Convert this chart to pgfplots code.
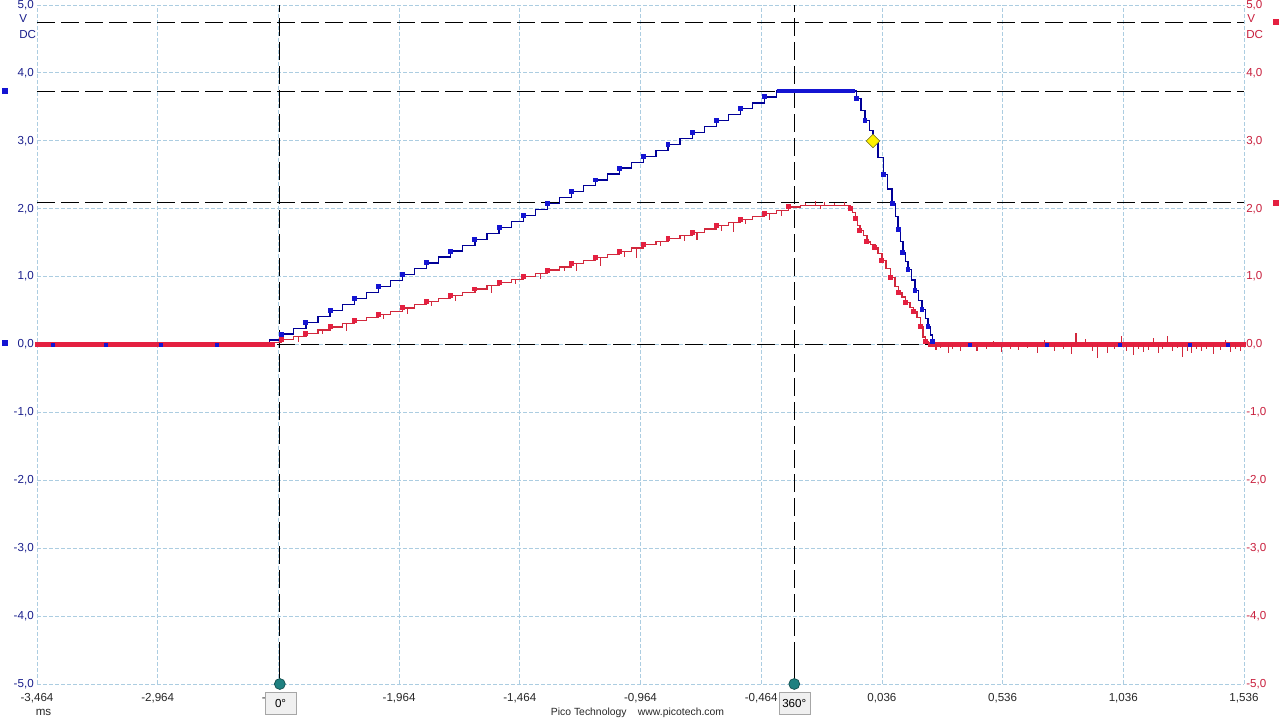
\documentclass[border=0pt]{standalone}
\usepackage{pgfplots}
\pgfplotsset{compat=1.18}
\usepackage{fontspec}
\setmainfont{Liberation Sans}
\definecolor{bluetrace}{RGB}{0,0,150}
\definecolor{bluemark}{RGB}{20,20,210}
\definecolor{redtrace}{RGB}{210,40,60}
\definecolor{redmark}{RGB}{228,32,64}
\definecolor{gridblue}{RGB}{172,205,225}
\definecolor{lefttick}{RGB}{25,30,140}
\definecolor{righttick}{RGB}{200,30,60}
\definecolor{tealc}{RGB}{30,128,128}
\definecolor{boxgray}{RGB}{240,240,240}
\begin{document}
\fontsize{8.7pt}{10pt}\selectfont
\begin{tikzpicture}
\path[use as bounding box] (0,0) rectangle (960pt,540pt);
\begin{axis}[
  at={(27.75pt,27pt)}, anchor=south west, scale only axis,
  width=905.25pt, height=509.25pt,
  xmin=-3.464, xmax=1.536, ymin=-5, ymax=5,
  xtick={-3.464,-2.964,-2.464,-1.964,-1.464,-0.964,-0.464,0.036,0.536,1.036,1.536},
  xticklabels={{-3,464},{-2,964},{-2,464},{-1,964},{-1,464},{-0,964},{-0,464},{0,036},{0,536},{1,036},{1,536}},
  ytick={-5,-4,-3,-2,-1,0,1,2,3,4,5},
  yticklabels={{-5,0},{-4,0},{-3,0},{-2,0},{-1,0},{0,0},{1,0},{2,0},{3,0},{4,0},{5,0}},
  grid=major,
  major grid style={gridblue, dash pattern=on 3pt off 1.5pt, line width=0.6pt},
  axis line style={draw=none}, major tick length=0pt,
  xticklabel style={anchor=north, inner sep=0pt, yshift=-6.75pt, text=black!85},
  yticklabel style={anchor=east, inner sep=0pt, xshift=-2.25pt, text=lefttick},
  clip=false,
]
% rulers
\draw[black, line width=0.75pt, dash pattern=on 13.5pt off 4.5pt] (axis cs:-3.464,4.735) -- (axis cs:1.536,4.735);
\draw[black, line width=0.75pt, dash pattern=on 13.5pt off 4.5pt] (axis cs:-3.464,3.733) -- (axis cs:1.536,3.733);
\draw[black, line width=0.75pt, dash pattern=on 13.5pt off 4.5pt] (axis cs:-3.464,2.084) -- (axis cs:1.536,2.084);
\draw[black, line width=0.75pt, dash pattern=on 13.5pt off 4.5pt] (axis cs:-3.464,0) -- (axis cs:1.536,0);
\draw[black, line width=0.75pt, dash pattern=on 13.5pt off 4.5pt] (axis cs:-2.458,-5) -- (axis cs:-2.458,5);
\draw[black, line width=0.75pt, dash pattern=on 13.5pt off 4.5pt] (axis cs:-0.327,-5) -- (axis cs:-0.327,5);
\draw[black, line width=0.75pt] (axis cs:-2.458,-5) -- (axis cs:-2.458,-4.65);
\draw[black, line width=0.75pt] (axis cs:-0.327,-5) -- (axis cs:-0.327,-4.65);
% blue trace
\addplot[bluetrace, line width=0.9pt, const plot mark left, mark=square*, mark repeat=2, mark size=1.4pt, mark options={fill=bluemark, draw=bluemark, solid}] coordinates {
(-3.464,0) (-2.50,0.066) (-2.45,0.154) (-2.40,0.241) (-2.35,0.328) (-2.30,0.416) (-2.25,0.503) (-2.20,0.590) (-2.15,0.677) (-2.10,0.765) (-2.05,0.852) (-2.00,0.939) (-1.95,1.027) (-1.90,1.114) (-1.85,1.201) (-1.80,1.289) (-1.75,1.376) (-1.70,1.463) (-1.65,1.550) (-1.60,1.638) (-1.55,1.725) (-1.50,1.812) (-1.45,1.900) (-1.40,1.987) (-1.35,2.074) (-1.30,2.162) (-1.25,2.249) (-1.20,2.336) (-1.15,2.423) (-1.10,2.511) (-1.05,2.598) (-1.00,2.685) (-0.95,2.773) (-0.90,2.860) (-0.85,2.947) (-0.80,3.035) (-0.75,3.122) (-0.70,3.209) (-0.65,3.296) (-0.60,3.384) (-0.55,3.471) (-0.50,3.558) (-0.45,3.646) (-0.40,3.733)
(-0.068,3.62) (-0.051,3.45) (-0.034,3.30) (-0.017,3.15) (-0.001,2.99) (0.020,2.75) (0.041,2.50) (0.060,2.29) (0.078,2.08) (0.091,1.88) (0.103,1.69) (0.113,1.52) (0.123,1.35) (0.134,1.22) (0.144,1.10) (0.158,0.95) (0.173,0.80) (0.188,0.65) (0.202,0.51) (0.215,0.38) (0.227,0.26) (0.236,0.14) (0.244,0.04) (0.250,0) (1.536,0)};
\addplot[bluemark, line width=2.4pt] coordinates {(-0.40,3.733) (-0.075,3.733)};
% red trace
\addplot[redtrace, line width=0.9pt, const plot mark left, mark=square*, mark repeat=2, mark size=1.4pt, mark options={fill=redmark, draw=redmark, solid}] coordinates {
(-3.464,0) (-2.48,0.03) (-2.45,0.073) (-2.40,0.119) (-2.35,0.166) (-2.30,0.212) (-2.25,0.259) (-2.20,0.305) (-2.15,0.352) (-2.10,0.398) (-2.05,0.445) (-2.00,0.491) (-1.95,0.538) (-1.90,0.584) (-1.85,0.631) (-1.80,0.677) (-1.75,0.724) (-1.70,0.770) (-1.65,0.817) (-1.60,0.863) (-1.55,0.910) (-1.50,0.956) (-1.45,1.003) (-1.40,1.049) (-1.35,1.096) (-1.30,1.142) (-1.25,1.189) (-1.20,1.235) (-1.15,1.282) (-1.10,1.328) (-1.05,1.375) (-1.00,1.421) (-0.95,1.468) (-0.90,1.514) (-0.85,1.561) (-0.80,1.607) (-0.75,1.654) (-0.70,1.700) (-0.65,1.747) (-0.60,1.793) (-0.55,1.840) (-0.50,1.886) (-0.45,1.933) (-0.40,1.979) (-0.35,2.026) (-0.30,2.050)
(-0.096,2.00) (-0.085,1.94) (-0.075,1.85) (-0.065,1.75) (-0.055,1.68) (-0.040,1.60) (-0.026,1.51) (-0.010,1.47) (0.007,1.43) (0.020,1.34) (0.036,1.24) (0.053,1.12) (0.070,0.99) (0.090,0.85) (0.105,0.77) (0.119,0.70) (0.135,0.62) (0.152,0.55) (0.167,0.48) (0.181,0.40) (0.195,0.26) (0.206,0.11) (0.218,0.04) (0.228,0) (1.536,0)};
\addplot[redmark, line width=3.6pt] coordinates {(-3.464,0) (-2.48,0)};
\addplot[redmark, line width=3.6pt] coordinates {(0.228,0) (1.536,0)};
\addplot[only marks, mark=square*, mark size=1.1pt, mark options={fill=bluemark, draw=bluemark}] coordinates {(-3.40,0) (-3.18,0) (-2.95,0) (-2.72,0) (0.40,0) (0.72,0) (1.02,0) (1.31,0) (1.47,0)};
% spikes
\addplot[draw=none, mark=none, error bars/.cd, y dir=both, y explicit, error mark=none, error bar style={draw=redtrace, line width=0.8pt}] coordinates {
(-2.38,0.119) += (0,0) -= (0,0.08)
(-2.28,0.212) += (0,0) -= (0,0.06)
(-2.18,0.305) += (0,0) -= (0,0.10)
(-2.03,0.445) += (0,0) -= (0,0.07)
(-1.93,0.538) += (0,0) -= (0,0.09)
(-1.83,0.631) += (0,0) -= (0,0.06)
(-1.73,0.724) += (0,0) -= (0,0.08)
(-1.58,0.863) += (0,0) -= (0,0.10)
(-1.48,0.956) += (0,0) -= (0,0.07)
(-1.38,1.049) += (0,0) -= (0,0.09)
(-1.28,1.142) += (0,0) -= (0,0.06)
(-1.23,1.189) += (0,0) -= (0,0.10)
(-1.13,1.282) += (0,0) -= (0,0.12)
(-1.03,1.375) += (0,0) -= (0,0.08)
(-0.98,1.421) += (0,0) -= (0,0.14)
(-0.88,1.514) += (0,0) -= (0,0.07)
(-0.78,1.607) += (0,0) -= (0,0.09)
(-0.73,1.654) += (0,0) -= (0,0.12)
(-0.63,1.747) += (0,0) -= (0,0.08)
(-0.58,1.793) += (0,0) -= (0,0.14)
(-0.53,1.840) += (0,0) -= (0,0.07)
(-0.43,1.933) += (0,0) -= (0,0.10)
(-0.38,1.979) += (0,0) -= (0,0.08)
(-0.28,2.05) += (0,0.04) -= (0,0)
(-0.24,2.05) += (0,0.06) -= (0,0)
(-0.22,2.05) += (0,0) -= (0,0.06)
(-0.20,2.05) += (0,0.05) -= (0,0)
(-0.16,2.05) += (0,0.04) -= (0,0)
(-0.12,2.05) += (0,0.05) -= (0,0)
(0.26,0) += (0,0) -= (0,0.08)
(0.28,0) += (0,0) -= (0,0.05)
(0.31,0) += (0,0) -= (0,0.12)
(0.33,0) += (0,0) -= (0,0.06)
(0.36,0) += (0,0) -= (0,0.09)
(0.40,0) += (0,0) -= (0,0.04)
(0.43,0) += (0,0) -= (0,0.10)
(0.47,0) += (0,0) -= (0,0.07)
(0.50,0) += (0,0.05) -= (0,0)
(0.53,0) += (0,0) -= (0,0.11)
(0.57,0) += (0,0) -= (0,0.06)
(0.60,0) += (0,0) -= (0,0.08)
(0.64,0) += (0,0) -= (0,0.05)
(0.68,0) += (0,0) -= (0,0.12)
(0.71,0) += (0,0.06) -= (0,0)
(0.75,0) += (0,0) -= (0,0.09)
(0.79,0) += (0,0) -= (0,0.06)
(0.82,0) += (0,0) -= (0,0.14)
(0.84,0) += (0,0.17) -= (0,0)
(0.88,0) += (0,0.08) -= (0,0)
(0.91,0) += (0,0) -= (0,0.10)
(0.93,0) += (0,0) -= (0,0.20)
(0.97,0) += (0,0) -= (0,0.12)
(1.00,0) += (0,0) -= (0,0.07)
(1.03,0) += (0,0.13) -= (0,0)
(1.05,0) += (0,0) -= (0,0.09)
(1.08,0) += (0,0) -= (0,0.15)
(1.10,0) += (0,0) -= (0,0.06)
(1.12,0) += (0,0) -= (0,0.11)
(1.14,0) += (0,0) -= (0,0.08)
(1.16,0) += (0,0.10) -= (0,0)
(1.18,0) += (0,0) -= (0,0.13)
(1.20,0) += (0,0) -= (0,0.07)
(1.22,0) += (0,0.12) -= (0,0)
(1.24,0) += (0,0) -= (0,0.10)
(1.26,0) += (0,0) -= (0,0.05)
(1.28,0) += (0,0) -= (0,0.18)
(1.30,0) += (0,0) -= (0,0.09)
(1.32,0) += (0,0) -= (0,0.12)
(1.34,0) += (0,0) -= (0,0.07)
(1.36,0) += (0,0) -= (0,0.10)
(1.38,0) += (0,0) -= (0,0.06)
(1.41,0) += (0,0) -= (0,0.14)
(1.44,0) += (0,0) -= (0,0.08)
(1.46,0) += (0,0.07) -= (0,0)
(1.48,0) += (0,0) -= (0,0.11)
(1.50,0) += (0,0) -= (0,0.06)
(1.52,0) += (0,0) -= (0,0.09)
};
% trigger diamond
\addplot[only marks, mark=square*, mark size=3.6pt, mark options={rotate=45, fill=yellow, draw=olive!70!black, line width=0.4pt}] coordinates {(-0.001,2.997)};
% cursor handles
\addplot[only marks, mark=*, mark size=4.1pt, mark options={fill=tealc, draw=tealc!60!black, line width=0.5pt}] coordinates {(-2.458,-5) (-0.327,-5)};
\node[draw=gray!70, fill=boxgray, minimum width=23.25pt, minimum height=16.5pt, inner sep=0pt] at (axis cs:-2.455,-5.28) {0°};
\node[draw=gray!70, fill=boxgray, minimum width=23.25pt, minimum height=16.5pt, inner sep=0pt] at (axis cs:-0.327,-5.28) {360°};
\end{axis}
\begin{axis}[
  at={(27.75pt,27pt)}, anchor=south west, scale only axis,
  width=905.25pt, height=509.25pt,
  xmin=-3.464, xmax=1.536, ymin=-5, ymax=5,
  xtick=\empty,
  ytick={-5,-4,-3,-2,-1,0,1,2,3,4,5},
  yticklabels={{-5,0},{-4,0},{-3,0},{-2,0},{-1,0},{0,0},{1,0},{2,0},{3,0},{4,0},{5,0}},
  yticklabel pos=right,
  axis line style={draw=none}, major tick length=0pt,
  yticklabel style={anchor=west, inner sep=0pt, xshift=1.5pt, text=righttick},
]
\end{axis}
\begin{scope}[x=0.75pt, y=-0.75pt, yshift=540pt]
\node[anchor=west, inner sep=0pt, text=lefttick] at (19,19) {V};
\node[anchor=west, inner sep=0pt, text=lefttick] at (19,35) {DC};
\node[anchor=west, inner sep=0pt, text=righttick] at (1247,19) {V};
\node[anchor=west, inner sep=0pt, text=righttick] at (1246,35) {DC};
\fill[bluemark] (1.5,88) rectangle (7.5,94);
\fill[bluemark] (1.5,340) rectangle (7.5,346);
\fill[redmark] (1272.5,19.5) rectangle (1278.5,25.5);
\fill[redmark] (1272.5,200.5) rectangle (1278.5,206.5);
\node[inner sep=0pt, text=black!85] at (43.5,712) {ms};
\node[inner sep=0pt, text=black!85, font=\fontsize{7.8pt}{9pt}\selectfont] at (637.5,713) {Pico Technology\hspace{8.5pt}www.picotech.com};
\end{scope}
\end{tikzpicture}
\end{document}
